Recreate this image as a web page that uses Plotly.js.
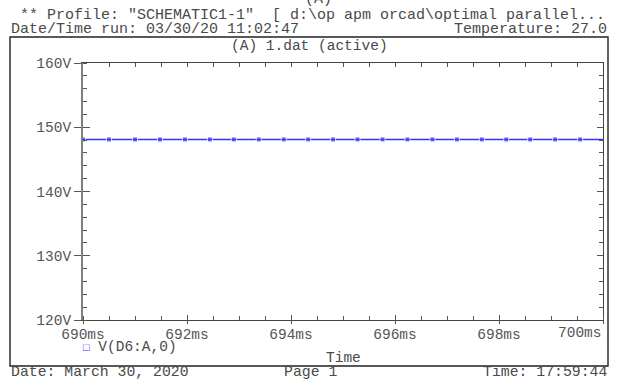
<!DOCTYPE html>
<html>
<head>
<meta charset="utf-8">
<script src="https://cdn.plot.ly/plotly-3.0.1.min.js"></script>
<style>
  html, body { margin: 0; padding: 0; background: #fff; }
  #chart { width: 619px; height: 379px; }
</style>
</head>
<body>
<div id="chart"></div>
<script>
// Transient result: V(D6:A,0) over the 690-700 ms window
const timeMs = [690.00, 690.50, 691.00, 691.48, 691.96, 692.44, 692.90, 693.38, 693.86, 694.33,
                694.81, 695.28, 695.76, 696.24, 696.72, 697.19, 697.67, 698.14, 698.60, 699.08,
                699.56, 700.00];
const voltageV = [148.1, 148.1, 148.1, 148.1, 148.1, 148.1, 148.1, 148.1, 148.1, 148.1,
                  148.1, 148.1, 148.1, 148.1, 148.1, 148.1, 148.1, 148.1, 148.1, 148.1,
                  148.1, 148.1];
const traceName = 'V(D6:A,0)';

// Axis ticks and their labels
const xTickVals = [690, 692, 694, 696, 698, 700];
const xTickText = ['690ms', '692ms', '694ms', '696ms', '698ms', '700ms'];
const yTickVals = [120, 130, 140, 150, 160];
const yTickText = ['120V', '130V', '140V', '150V', '160V'];

const xRange = [690, 700];
const yRange = [120, 160];

// Plot area in pixels, used to place header/footer text in paper units
const W = 619, H = 379;
const M = { l: 83, r: 16, t: 63, b: 59 };
const pw = W - M.l - M.r, ph = H - M.t - M.b;
const px = x => (x - M.l) / pw;
const py = y => (H - M.b - y) / ph;

const mono = 'Liberation Mono, Courier New, DejaVu Sans Mono, monospace';
const textCol = '#4a4a4a';
const axCol = '#555';
const blue = '#3333ff';

// The last time label is drawn separately so it ends flush with the plot's right edge
const lastIdx = xTickText.length - 1;
const xTickShown = xTickText.map((t, i) => i === lastIdx ? '' : t);

// The marker sits on every sample except the closing endpoint
const markerSizes = timeMs.map((t, i) => i === timeMs.length - 1 ? 0 : 5);

const traces = [
  {
    x: timeMs, y: voltageV, type: 'scatter', mode: 'lines+markers',
    line: { color: blue, width: 1.4 },
    marker: { symbol: 'square', size: markerSizes, color: blue },
    name: traceName, showlegend: false, hoverinfo: 'skip'
  },
  { x: [], y: [], xaxis: 'x2', yaxis: 'y2', showlegend: false, hoverinfo: 'skip' },
  { x: [], y: [], xaxis: 'x3', yaxis: 'y3', showlegend: false, hoverinfo: 'skip' }
];

const tickFont = { family: mono, size: 14.5, color: axCol };

const layout = {
  width: W, height: H,
  margin: M,
  paper_bgcolor: '#fff', plot_bgcolor: '#fff',
  showlegend: false,
  xaxis: {
    range: xRange, tickmode: 'array', tickvals: xTickVals, ticktext: xTickShown,
    ticks: 'outside', ticklen: 3, tickcolor: axCol, tickwidth: 1,
    ticklabelstandoff: -3, ticklabeloverflow: 'allow',
    minor: { tickmode: 'linear', tick0: 690, dtick: 0.5, ticks: 'inside', ticklen: 4, tickcolor: axCol },
    showline: true, linecolor: '#444', linewidth: 1.2,
    showgrid: false, zeroline: false, tickfont: tickFont, anchor: 'y'
  },
  xaxis2: {
    range: xRange, overlaying: 'x', anchor: 'y', side: 'bottom',
    tick0: 690, dtick: 2, ticks: 'inside', ticklen: 5, tickcolor: axCol,
    showticklabels: false, showline: false, showgrid: false, zeroline: false
  },
  xaxis3: {
    range: xRange, overlaying: 'x', anchor: 'y', side: 'top',
    tick0: 690, dtick: 0.5, ticks: 'inside', ticklen: 4, tickcolor: axCol,
    showticklabels: false, showline: true, linecolor: '#444', linewidth: 1.2,
    showgrid: false, zeroline: false
  },
  yaxis: {
    range: yRange, tickmode: 'array', tickvals: yTickVals, ticktext: yTickText,
    ticks: 'outside', ticklen: 7, tickcolor: axCol, tickwidth: 1,
    minor: { tickmode: 'linear', tick0: 120, dtick: 2, ticks: 'inside', ticklen: 4, tickcolor: axCol },
    showline: true, linecolor: '#808080', linewidth: 2,
    showgrid: false, zeroline: false, tickfont: tickFont, anchor: 'x'
  },
  yaxis2: {
    range: yRange, overlaying: 'y', anchor: 'x', side: 'left',
    tick0: 120, dtick: 10, ticks: 'inside', ticklen: 7, tickcolor: axCol,
    showticklabels: false, showline: false, showgrid: false, zeroline: false
  },
  yaxis3: {
    range: yRange, overlaying: 'y', anchor: 'x', side: 'right',
    tick0: 120, dtick: 10, ticks: 'inside', ticklen: 6, tickcolor: axCol,
    minor: { dtick: 2, ticks: 'inside', ticklen: 4, tickcolor: axCol },
    showticklabels: false, showline: true, linecolor: '#444', linewidth: 1.2,
    showgrid: false, zeroline: false
  },
  shapes: [
    { type: 'rect', xref: 'paper', yref: 'paper',
      x0: px(10), x1: px(608), y0: py(366), y1: py(37),
      line: { color: '#222', width: 1.4 }, fillcolor: 'rgba(0,0,0,0)', layer: 'below' }
  ],
  annotations: []
};

function label(text, x, y, xanchor, size, color) {
  layout.annotations.push({
    text: text, xref: 'paper', yref: 'paper', x: px(x), y: py(y),
    xanchor: xanchor, yanchor: 'middle', showarrow: false, borderpad: 0,
    font: { family: mono, size: size || 15, color: color || textCol }
  });
}

label('(A)', 318, -1, 'center');
label(' ** Profile: "SCHEMATIC1-1"  [ d:\\op apm orcad\\optimal parallel...', 10, 16, 'left');
label('Date/Time run: 03/30/20 11:02:47', 10, 29, 'left');
label('Temperature: 27.0', 608, 29, 'right');
label('(A) 1.dat (active)', 309, 46, 'center', 14.5);
label(xTickText[lastIdx], W - M.r, 333, 'right', tickFont.size, axCol);
label('<span style="color:' + blue + ';font-size:11px">□</span> ' + traceName, 82, 347, 'left', 14.5);
label('Time', 343, 358, 'center', 14.5);
label('Date: March 30, 2020', 10, 372, 'left', 14.8);
label('Page 1', 283, 372, 'left', 14.8);
label('Time: 17:59:44', 608, 372, 'right', 14.8);

Plotly.newPlot('chart', traces, layout, { staticPlot: true, displayModeBar: false });
</script>
</body>
</html>
